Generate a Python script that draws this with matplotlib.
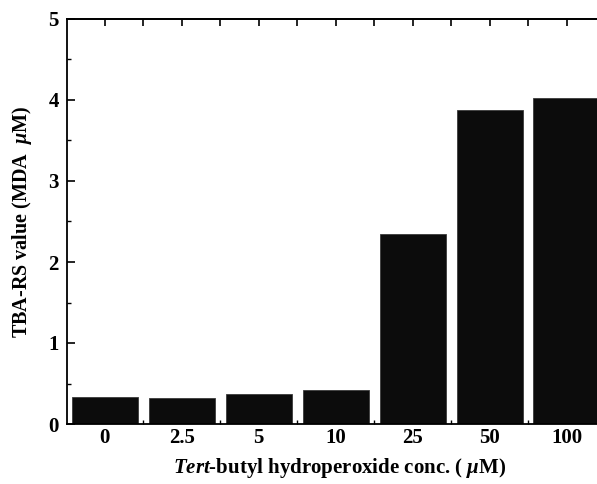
import numpy as np
import matplotlib.pyplot as plt
from matplotlib.ticker import MultipleLocator

concs = ['0', '2.5', '5', '10', '25', '50', '100']
tba_rs = [0.33, 0.32, 0.37, 0.42, 2.34, 3.88, 4.03]

plt.rcParams['font.family'] = ['Liberation Serif', 'DejaVu Serif']
plt.rcParams['font.weight'] = 'bold'
plt.rcParams['mathtext.fontset'] = 'custom'
plt.rcParams['mathtext.rm'] = 'Liberation Serif:bold'
plt.rcParams['mathtext.it'] = 'Liberation Serif:italic:bold'

fig = plt.figure(figsize=(5.97, 4.84), dpi=100)
# axes runs past the right edge of the figure, like the cropped scan
ax = fig.add_axes([67 / 597, 60 / 484, 545 / 597, 405 / 484])

x = np.arange(len(concs))
ax.bar(x, tba_rs, width=0.86, color='#0c0c0c', edgecolor='#3a3a3a', linewidth=0.6)

ax.set_xlim(-0.49, 6.59)
ax.set_ylim(0, 5)
ax.set_xticks(x)
ax.set_xticklabels(concs)
ax.set_xticks(x[:-1] + 0.5, minor=True)
ax.yaxis.set_major_locator(MultipleLocator(1))
ax.yaxis.set_minor_locator(MultipleLocator(0.5))

ax.tick_params(axis='x', which='major', length=0, pad=3, labelsize=15)
ax.tick_params(axis='x', which='minor', direction='in', length=3, width=1)
ax.tick_params(axis='y', which='major', direction='in', length=6, width=1.2, labelsize=15, pad=6)
ax.tick_params(axis='y', which='minor', direction='in', length=3, width=1)

top = ax.secondary_xaxis('top')
top.set_xticks(np.arange(0, 7, 0.5))
top.tick_params(direction='in', length=5, width=1.2, labeltop=False)

ax.spines['right'].set_visible(False)
for s in ['left', 'bottom', 'top']:
    ax.spines[s].set_linewidth(1.3)
top.spines['top'].set_linewidth(1.3)

ax.set_ylabel(r'TBA-RS value (MDA  $\mu$M)', fontsize=14.5, fontweight='bold', labelpad=10)
ax.set_xlabel(r'$\mathit{Tert}$-butyl hydroperoxide conc. ( $\mu$M)', fontsize=15,
              fontweight='bold', labelpad=6)

fig.savefig('out.png', dpi=100)
